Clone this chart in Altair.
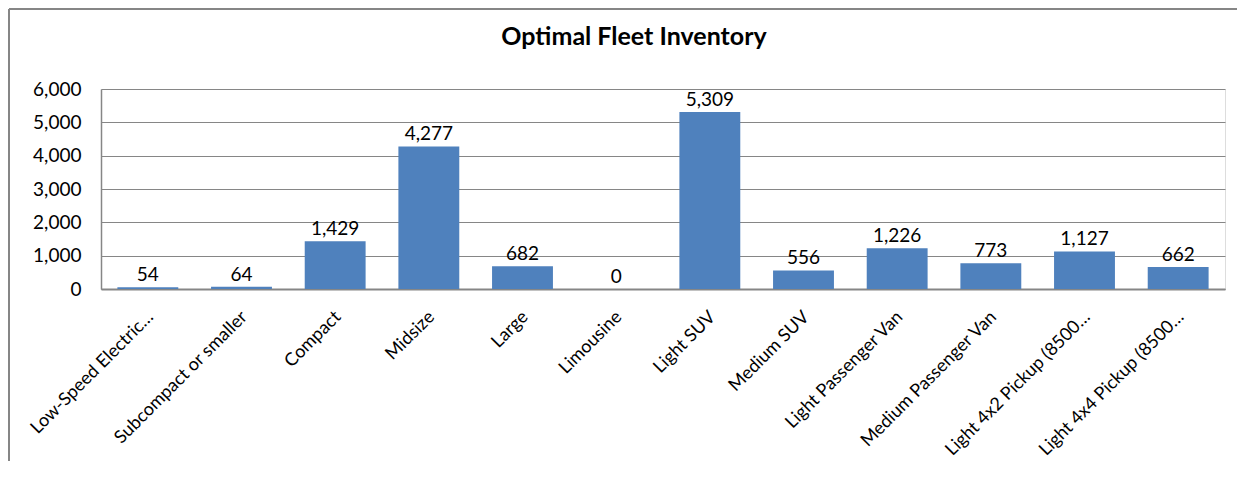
import altair as alt
import pandas as pd

title_text = "Optimal Fleet Inventory"
categories = [
    "Low-Speed Electric…",
    "Subcompact or smaller",
    "Compact",
    "Midsize",
    "Large",
    "Limousine",
    "Light SUV",
    "Medium SUV",
    "Light Passenger Van",
    "Medium Passenger Van",
    "Light 4x2 Pickup (8500…",
    "Light 4x4 Pickup (8500…",
]
values = [54, 64, 1429, 4277, 682, 0, 5309, 556, 1226, 773, 1127, 662]
y_ticks = [0, 1000, 2000, 3000, 4000, 5000, 6000]

df = pd.DataFrame({"category": categories, "value": values})

FONT = "Lato"
GRID = "#868686"
W, H = 1124, 200
PAD_R, PAD_B = 12, 172

x_enc = alt.X(
    "category:N",
    sort=categories,
    scale=alt.Scale(paddingInner=0.35, paddingOuter=0.175),
    axis=alt.Axis(
        title=None,
        labelAngle=-45,
        labelAlign="right",
        labelBaseline="middle",
        labelFontSize=18,
        labelFont=FONT,
        labelColor="#000000",
        labelPadding=25,
        labelOffset=3,
        labelLimit=300,
        ticks=False,
        domainColor=GRID,
        domainWidth=2,
        labelOverlap=False,
    ),
)
y_enc = alt.Y(
    "value:Q",
    scale=alt.Scale(domain=[0, 6000], nice=False),
    axis=alt.Axis(
        title=None,
        values=y_ticks,
        format=",.0f",
        labelFontSize=19,
        labelFont=FONT,
        labelColor="#000000",
        labelPadding=20,
        labelOverlap=False,
        ticks=False,
        domainColor=GRID,
        domainWidth=1.5,
        gridColor=GRID,
        gridWidth=1,
        gridOpacity=1,
    ),
)

one = pd.DataFrame({"t": [title_text]})

frame_top = alt.Chart(one).mark_rule(color=GRID, strokeWidth=2, clip=False).encode(
    x=alt.value(-92), x2=alt.value(W + PAD_R), y=alt.value(-80)
)
frame_left = alt.Chart(one).mark_rule(color=GRID, strokeWidth=2, clip=False).encode(
    x=alt.value(-92), y=alt.value(-80), y2=alt.value(H + PAD_B)
)

title = alt.Chart(one).mark_text(
    font=FONT, fontSize=25, fontWeight="bold", color="#000000",
    align="center", baseline="alphabetic", clip=False,
).encode(text="t:N", x=alt.value(533), y=alt.value(-44))

base = alt.Chart(df).encode(x=x_enc, y=y_enc)

bars = base.mark_bar(color="#4F81BD")

labels = base.mark_text(
    baseline="bottom", dy=-2, fontSize=19, font=FONT, color="#000000"
).encode(
    text=alt.Text("value:Q", format=","),
)

chart = alt.layer(frame_top, frame_left, title, bars, labels).properties(
    width=W,
    height=H,
    autosize=alt.AutoSizeParams(type="none"),
    padding={"left": 93, "top": 81, "right": PAD_R, "bottom": PAD_B},
).configure_view(stroke=None).configure(background="white")

chart.save("out.html", embed_options={"renderer": "svg", "actions": False})
